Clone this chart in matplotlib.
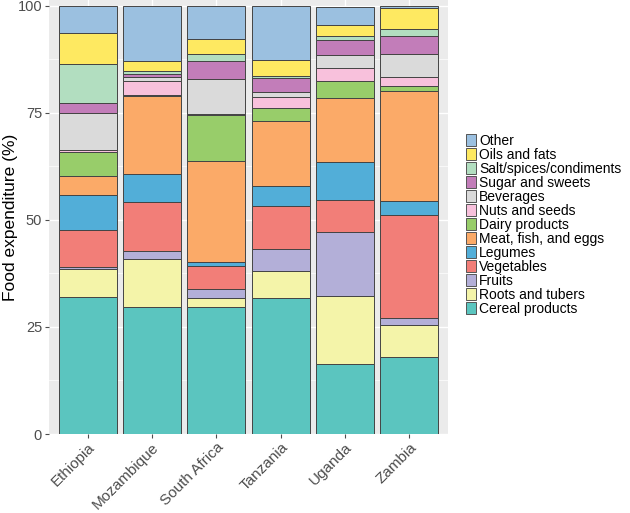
import numpy as np
import matplotlib
matplotlib.use('Agg')
import matplotlib.pyplot as plt
from matplotlib.patches import Patch

plt.rcParams['font.family'] = ['Liberation Sans', 'DejaVu Sans']

countries = ['Ethiopia', 'Mozambique', 'South Africa', 'Tanzania', 'Uganda', 'Zambia']

# stacked bottom -> top
categories = ['Cereal products', 'Roots and tubers', 'Fruits', 'Vegetables', 'Legumes',
              'Meat, fish, and eggs', 'Dairy products', 'Nuts and seeds', 'Beverages',
              'Sugar and sweets', 'Salt/spices/condiments', 'Oils and fats', 'Other']

cereal = [31.9, 29.7, 29.7, 31.7, 16.3, 18.0]
roots = [6.6, 11.1, 2.1, 6.3, 16.0, 7.5]
fruits = [0.5, 2.0, 2.1, 5.2, 15.0, 1.5]
vegetables = [8.6, 11.5, 5.3, 10.0, 7.3, 24.1]
legumes = [8.2, 6.4, 0.9, 4.7, 9.0, 3.3]
meat = [4.4, 18.2, 23.6, 15.2, 14.9, 25.8]
dairy = [5.6, 0.2, 10.8, 3.1, 4.0, 1.1]
nuts = [0.5, 3.3, 0.3, 2.5, 3.1, 2.2]
beverages = [8.8, 0.9, 8.1, 1.1, 3.0, 5.3]
sugar = [2.3, 0.8, 4.3, 3.3, 3.5, 4.3]
salt = [9.0, 0.6, 1.7, 0.5, 0.9, 1.5]
oils = [7.4, 2.4, 3.5, 3.8, 2.6, 4.9]
other = [6.2, 12.9, 7.6, 12.6, 4.2, 0.5]

values = [cereal, roots, fruits, vegetables, legumes, meat, dairy, nuts,
          beverages, sugar, salt, oils, other]

colors = ['#5BC5BF', '#F4F4A9', '#B3AFD8', '#F27E78', '#52AED8', '#FBAA68',
          '#98CD6A', '#F8C1DC', '#DADADA', '#C27DB9', '#B2DEC0', '#FEE961', '#9BC0E0']

fig = plt.figure(figsize=(6.3, 5.13), dpi=100)
# panel: x 49..448 px, y 0..434 px (top of panel runs off the image)
ax = fig.add_axes([49 / 630, 79 / 513, 399 / 630, 434 / 513])
ax.set_facecolor('#EBEBEB')

x = np.arange(1, len(countries) + 1)
bottom = np.zeros(len(countries))
for vals, col in zip(values, colors):
    ax.bar(x, vals, width=0.9, bottom=bottom, color=col, edgecolor='#444444',
           linewidth=0.7, zorder=3)
    bottom += np.array(vals)

ax.set_xlim(0.4, 6.6)
ax.set_ylim(0, 101.4)

ax.set_yticks([0, 25, 50, 75, 100])
ax.set_yticks([12.5, 37.5, 62.5, 87.5], minor=True)
ax.set_xticks(x)
ax.set_xticklabels(countries, rotation=45, ha='right', va='top', rotation_mode='anchor',
                   fontsize=11, color='#4D4D4D')
ax.tick_params(axis='y', labelsize=10.5, colors='#4D4D4D', length=3, pad=2)
ax.tick_params(axis='x', length=3, colors='#4D4D4D', pad=1.5)
ax.tick_params(axis='y', which='minor', length=0)
ax.grid(which='major', color='white', linewidth=1.0, zorder=0)
ax.grid(which='minor', axis='y', color='white', linewidth=0.5, zorder=0)
ax.set_axisbelow(True)
for s in ax.spines.values():
    s.set_visible(False)

ax.set_ylabel('Food expenditure (%)', fontsize=12.5, color='black')
ax.yaxis.set_label_coords(-31 / 399, 0.5)

handles = [Patch(facecolor=c, edgecolor='#555555', linewidth=0.7, label=l)
           for c, l in zip(colors[::-1], categories[::-1])]
fig.legend(handles=handles, loc='upper left', bbox_to_anchor=(466 / 630, 1 - 134 / 513),
           frameon=False, fontsize=10, handlelength=0.75, handleheight=1.0,
           handletextpad=0.2, labelspacing=0.0, borderaxespad=0, borderpad=0)

fig.savefig('out.png', dpi=100)
